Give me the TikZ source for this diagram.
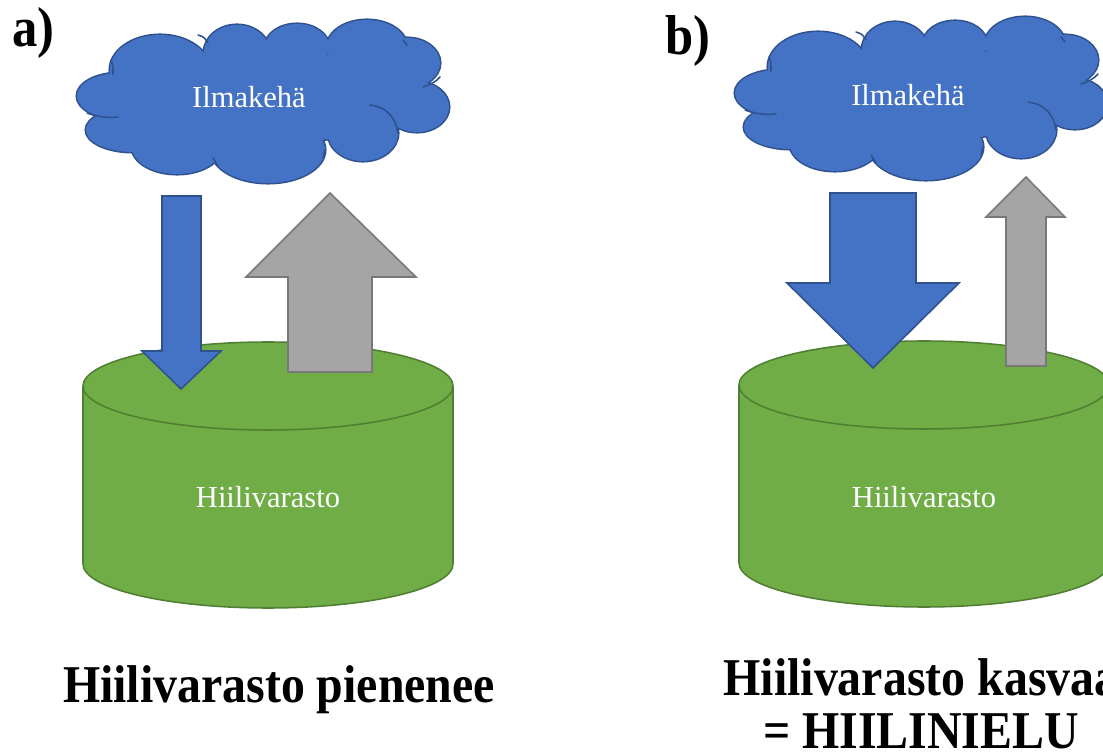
\documentclass[tikz,border=0pt]{standalone}
\usepackage{fontspec}
\setmainfont{Liberation Serif}
\newfontfamily\otsikkofont[FakeStretch=0.9]{Liberation Serif}

\definecolor{pilvisin}{HTML}{4472C4}
\definecolor{pilvireuna}{HTML}{2F528F}
\definecolor{vihrea}{HTML}{70AD47}
\definecolor{vihreareuna}{HTML}{507E32}
\definecolor{harmaa}{HTML}{A5A5A5}
\definecolor{harmaareuna}{HTML}{787878}

% puffs of the cloud, in panel a coordinates
\newcommand{\pilvimuoto}{%
  (120,96) ellipse[x radius=43,y radius=23]
  (133,130) ellipse[x radius=47,y radius=22]
  (177,147) ellipse[x radius=45,y radius=27]
  (268,150) ellipse[x radius=57,y radius=33]
  (363,133) ellipse[x radius=35,y radius=28]
  (417,107) ellipse[x radius=32,y radius=25]
  (407,63) ellipse[x radius=33,y radius=25]
  (367,47) ellipse[x radius=40,y radius=27]
  (297,47) ellipse[x radius=32,y radius=23]
  (237,53) ellipse[x radius=33,y radius=28]
  (160,70) ellipse[x radius=50,y radius=35]
  (265,100) ellipse[x radius=125,y radius=45]
  (330,95) ellipse[x radius=80,y radius=40]}

\newcommand{\pilvi}{%
  \path[draw=pilvireuna,line width=2.2pt,fill=pilvisin] \pilvimuoto;
  \path[fill=pilvisin] \pilvimuoto;
  \draw[pilviviiva] (87,113) .. controls (97,117) and (108,118) .. (118,117);
  \draw[pilviviiva] (111,60) .. controls (113,65) .. (113,74);
  \draw[pilviviiva] (198,35) .. controls (204,37) .. (208,43);
  \draw[pilviviiva] (403,40) -- (407,45);
  \draw[pilviviiva] (423,87) .. controls (430,85) and (437,81) .. (440,77);
  \draw[pilviviiva] (370,105) .. controls (385,107) and (395,115) .. (398,133);
  \draw[pilviviiva] (325,150) -- (323,158);
  \draw[pilviviiva] (213,158) -- (218,166);
}

\begin{document}
\begin{tikzpicture}[x=0.025cm,y=-0.025cm,
    pilviviiva/.style={draw=pilvireuna,line width=1.1pt,line cap=round},
    varasto/.style={fill=vihrea,draw=vihreareuna,line width=1.1pt},
    alas/.style={fill=pilvisin,draw=pilvireuna,line width=1.1pt,line join=miter},
    ylos/.style={fill=harmaa,draw=harmaareuna,line width=1.1pt,line join=miter},
    teksti/.style={text=white,inner sep=0pt,font=\fontsize{21.7}{26}\selectfont},
    otsikko/.style={inner sep=0pt,align=center,font=\otsikkofont\fontsize{37.8}{37}\selectfont\bfseries},
    kirjain/.style={inner sep=0pt,anchor=base west,font=\otsikkofont\fontsize{40}{40}\selectfont\bfseries}]
  \path[use as bounding box,clip] (0,0) rectangle (1103,753);

  % a)
  \node[kirjain] (kirjaina) at (12,47) {a)};
  \pilvi
  \node[teksti] (ilmaa) at (249,97) {Ilmakehä};

  \path[varasto] (83,386) -- (83,564) arc[start angle=180,end angle=0,x radius=185,y radius=44] -- (453,386);
  \path[varasto] (268,386) ellipse[x radius=185,y radius=44];
  \node[teksti] (varastoa) at (268,497) {Hiilivarasto};

  \path[alas] (162,196) -- (201,196) -- (201,351) -- (221,351) -- (181,389) -- (142,351) -- (162,351) -- cycle;
  \path[ylos] (288,372) -- (288,277) -- (246,277) -- (330,193) -- (416,277) -- (372,277) -- (372,372) -- cycle;

  \node[otsikko,anchor=base] (tulosa) at (279,702) {Hiilivarasto pienenee};

  % b)
  \node[kirjain] (kirjainb) at (665,55) {b)};
  \begin{scope}[shift={(658,-3)}]
    \pilvi
  \end{scope}
  \node[teksti] (ilmab) at (908,95) {Ilmakehä};

  \path[varasto] (739,385) -- (739,563) arc[start angle=180,end angle=0,x radius=185,y radius=44] -- (1109,385);
  \path[varasto] (924,385) ellipse[x radius=185,y radius=44];
  \node[teksti] (varastob) at (924,497) {Hiilivarasto};

  \path[alas] (830,193) -- (916,193) -- (916,283) -- (959,283) -- (873,368) -- (787,283) -- (830,283) -- cycle;
  \path[ylos] (1006,366) -- (1006,217) -- (986,217) -- (1026,177) -- (1065,217) -- (1046,217) -- (1046,366) -- cycle;

  \node[otsikko,anchor=base] (tulosb) at (921,748) {Hiilivarasto kasvaa\\= HIILINIELU};
\end{tikzpicture}
\end{document}
